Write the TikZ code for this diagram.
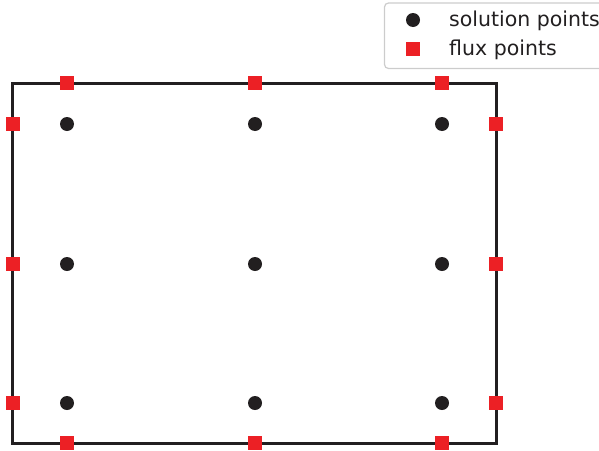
\documentclass[tikz,border=0pt]{standalone}
\usepackage{fontspec}
\setmainfont{DejaVu Sans}
\definecolor{pk}{RGB}{34,31,32}
\definecolor{pr}{RGB}{236,32,37}
\definecolor{lg}{RGB}{204,204,204}
\begin{document}
\begin{tikzpicture}[x=1pt,y=-1pt,
  sol/.style={circle,fill=pk,inner sep=0pt,minimum size=14pt},
  flux/.style={rectangle,fill=pr,inner sep=0pt,minimum size=14pt},
  legtext/.style={anchor=west,inner sep=0pt,font=\fontsize{20.5}{23}\selectfont,text=pk}]
\useasboundingbox (0,0) rectangle (599,450);
% legend
\draw[lg,line width=1.2pt,rounded corners=4pt] (384.5,3) rectangle (610,68.5);
\node[sol] (ls) at (413,20) {};
\node[flux] (lf) at (413,49) {};
\node[legtext] (lts) at (449,21) {solution points};
\node[legtext] (ltf) at (449,50) {flux points};
% cell
\draw[pk,line width=3pt] (12.5,83) rectangle (496,443);
% solution points
\foreach \x/\i in {67/1,255/2,442/3}
  \foreach \y/\j in {124/1,264/2,403/3}
    \node[sol] (s\i\j) at (\x,\y) {};
% flux points
\foreach \x/\i in {67/1,255/2,442/3} {
  \node[flux] (ft\i) at (\x,83) {};
  \node[flux] (fb\i) at (\x,443) {};
}
\foreach \y/\j in {124/1,264/2,403/3} {
  \node[flux] (fl\j) at (12.5,\y) {};
  \node[flux] (fr\j) at (496,\y) {};
}
\end{tikzpicture}
\end{document}
